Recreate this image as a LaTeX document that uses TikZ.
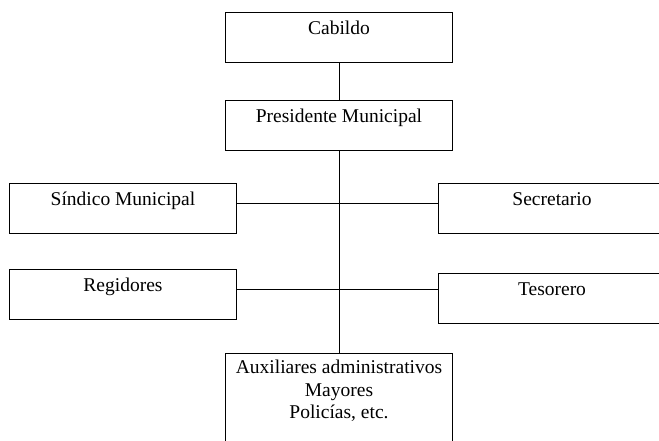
\documentclass[tikz,border=0pt]{standalone}
\usepackage{fontspec}
\setmainfont{Liberation Serif}
\begin{document}
\begin{tikzpicture}[x=1pt,y=-1pt,
  caja/.style={draw,line width=0.8pt,anchor=north,inner sep=0pt,minimum width=227pt,font=\fontsize{19.5}{22.5}\selectfont},
  una/.style={caja,text height=22pt,text depth=28pt},
  linea/.style={line width=0.8pt}]
\useasboundingbox (0,0) rectangle (659,440);
\clip (0,0) rectangle (659,440);
\node[una] (cab) at (339,12) {Cabildo};
\node[una] (pres) at (339,100) {Presidente Municipal};
\node[una] (sind) at (123,183) {Síndico Municipal};
\node[una] (reg) at (123,269) {Regidores};
\node[una] (sec) at (552,183) {Secretario};
\node[una] (tes) at (552,273) {Tesorero};
\node[caja,align=center,inner ysep=7pt,text depth=40pt] (aux) at (339,353)
  {Auxiliares administrativos\\Mayores\\Policías, etc.};
\coordinate (j1) at (339,203);
\coordinate (j2) at (339,289);
\draw[linea] (cab) -- (pres);
\draw[linea] (pres) -- (aux);
\draw[linea] (sind.east |- j1) -- (sec.west |- j1);
\draw[linea] (reg.east |- j2) -- (tes.west |- j2);
\end{tikzpicture}
\end{document}
